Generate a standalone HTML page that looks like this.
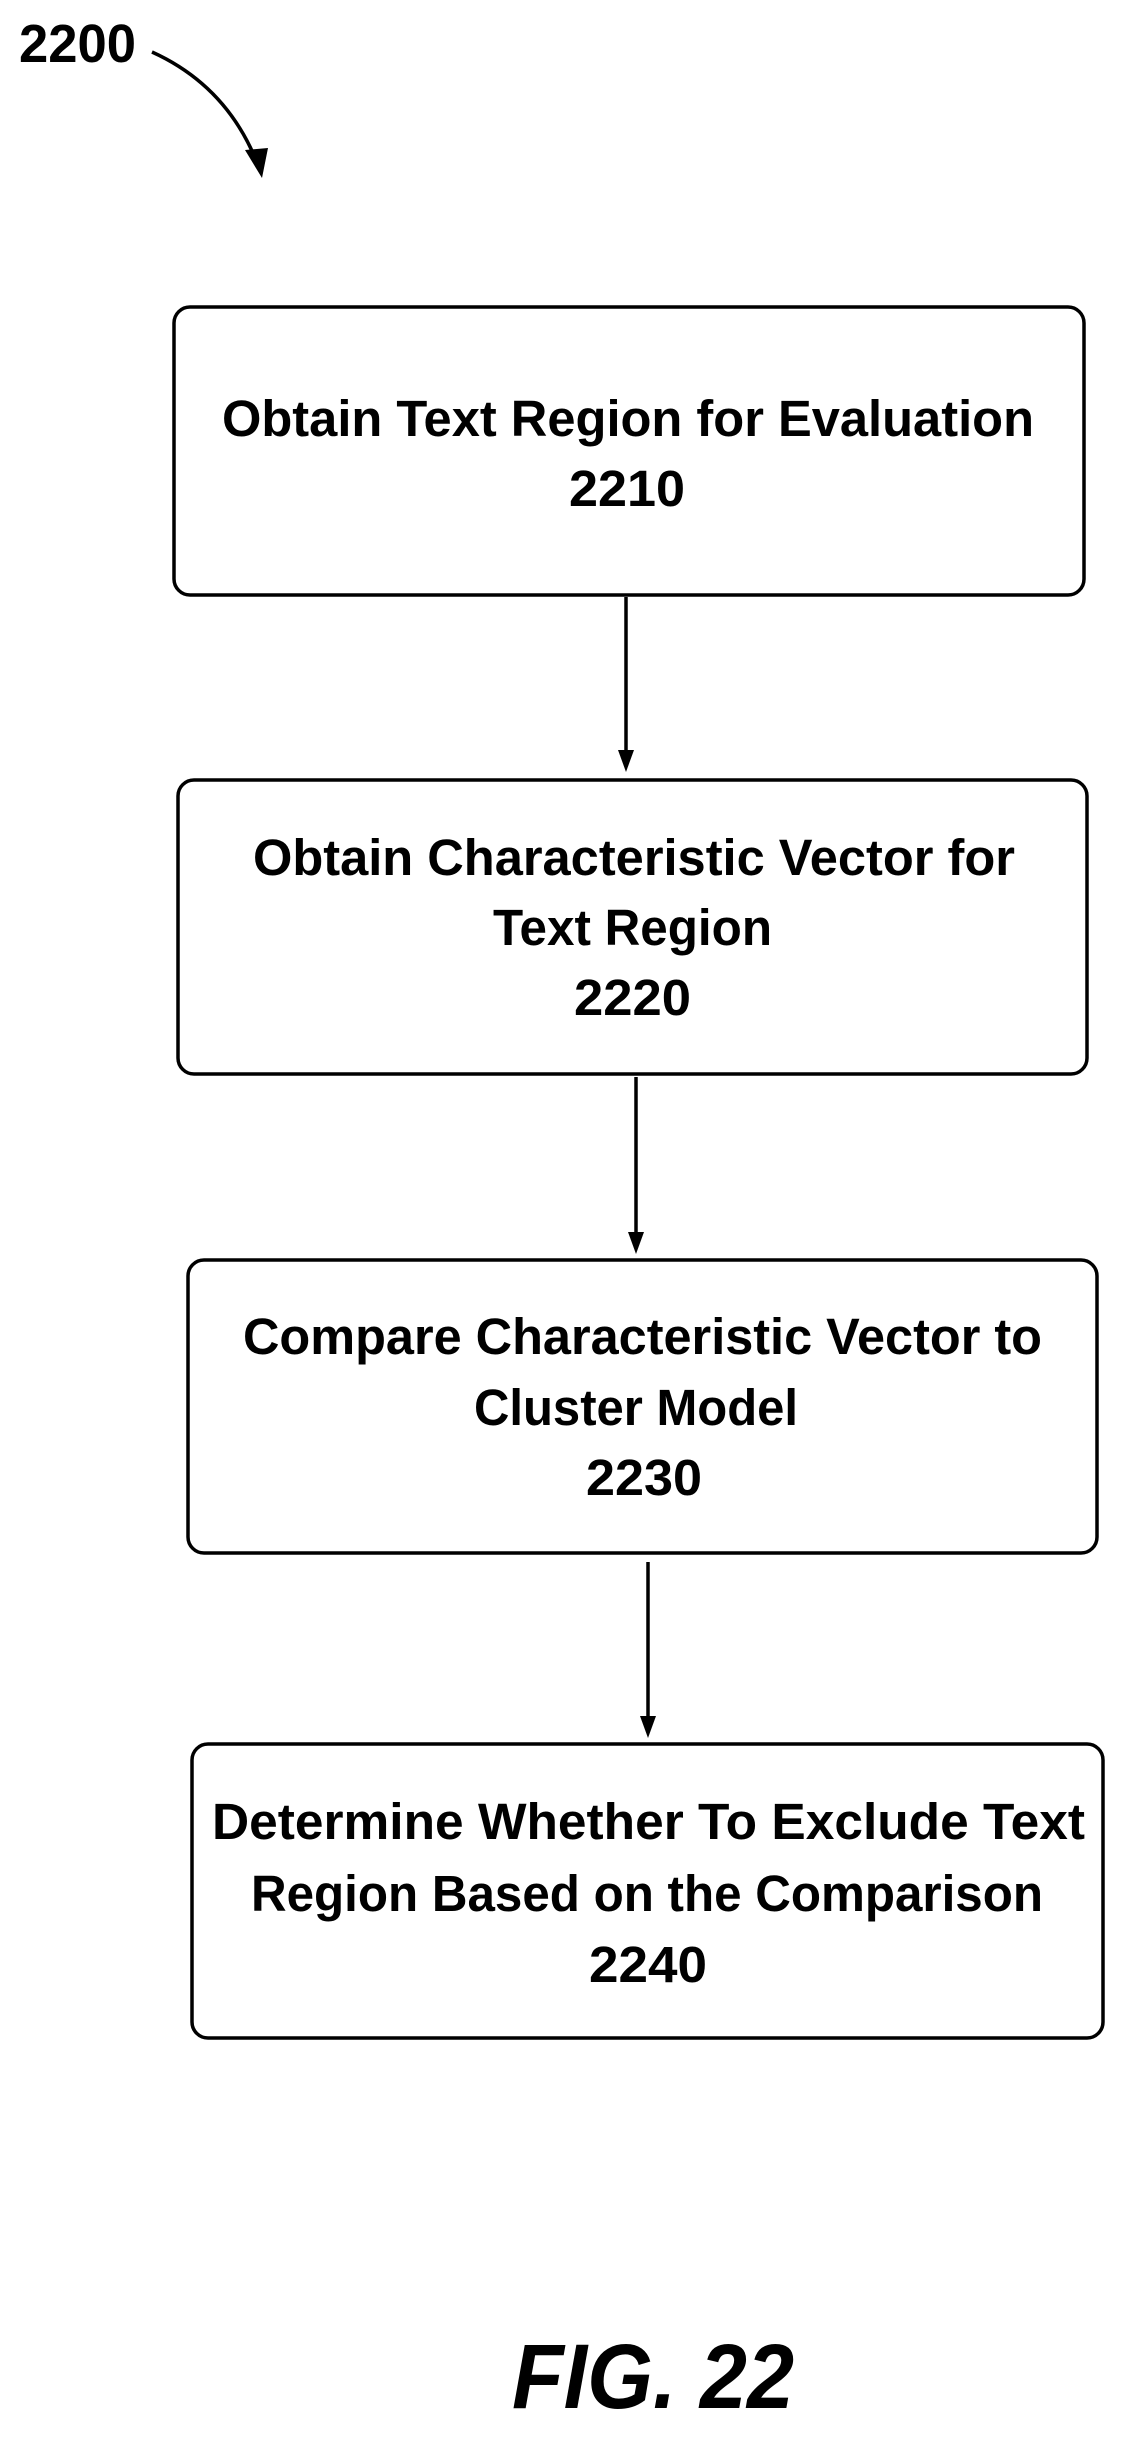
<!DOCTYPE html>
<html><head><meta charset="utf-8"><style>
html,body{margin:0;padding:0;background:#fff;}
svg{display:block;}
text{font-family:"Liberation Sans",sans-serif;font-weight:bold;fill:#000;}
</style></head><body>
<svg width="1127" height="2437" viewBox="0 0 1127 2437" xmlns="http://www.w3.org/2000/svg">
<text x="19" y="62" font-size="54" textLength="117" lengthAdjust="spacingAndGlyphs">2200</text>
<path d="M152,52 Q225,85 256,160" fill="none" stroke="#000" stroke-width="3.5"/>
<polygon points="245,150 268,148 262,178" fill="#000"/>

<g fill="none" stroke="#000" stroke-width="3.5">
<rect x="174" y="307" width="910" height="288" rx="16"/>
<rect x="178" y="780" width="909" height="294" rx="16"/>
<rect x="188" y="1260" width="909" height="293" rx="16"/>
<rect x="192" y="1744" width="911" height="294" rx="16"/>
<line x1="626" y1="597" x2="626" y2="752"/>
<line x1="636" y1="1077" x2="636" y2="1234"/>
<line x1="648" y1="1562" x2="648" y2="1718"/>
</g>
<polygon points="618,750 634,750 626,772" fill="#000"/>
<polygon points="628,1232 644,1232 636,1254" fill="#000"/>
<polygon points="640,1716 656,1716 648,1738" fill="#000"/>

<g font-size="51">
<text x="222" y="436" textLength="812" lengthAdjust="spacingAndGlyphs">Obtain Text Region for Evaluation</text>
<text x="569" y="506" textLength="116" lengthAdjust="spacingAndGlyphs">2210</text>

<text x="253" y="875" textLength="762" lengthAdjust="spacingAndGlyphs">Obtain Characteristic Vector for</text>
<text x="493" y="945" textLength="279" lengthAdjust="spacingAndGlyphs">Text Region</text>
<text x="574" y="1015" textLength="117" lengthAdjust="spacingAndGlyphs">2220</text>

<text x="243" y="1354" textLength="799" lengthAdjust="spacingAndGlyphs">Compare Characteristic Vector to</text>
<text x="474" y="1425" textLength="324" lengthAdjust="spacingAndGlyphs">Cluster Model</text>
<text x="586" y="1495" textLength="116" lengthAdjust="spacingAndGlyphs">2230</text>

<text x="212" y="1839" textLength="873" lengthAdjust="spacingAndGlyphs">Determine Whether To Exclude Text</text>
<text x="251" y="1911" textLength="792" lengthAdjust="spacingAndGlyphs">Region Based on the Comparison</text>
<text x="589" y="1982" textLength="118" lengthAdjust="spacingAndGlyphs">2240</text>
</g>

<text x="512" y="2408" font-size="92" font-style="italic" textLength="282" lengthAdjust="spacingAndGlyphs">FIG. 22</text>
</svg>
</body></html>
